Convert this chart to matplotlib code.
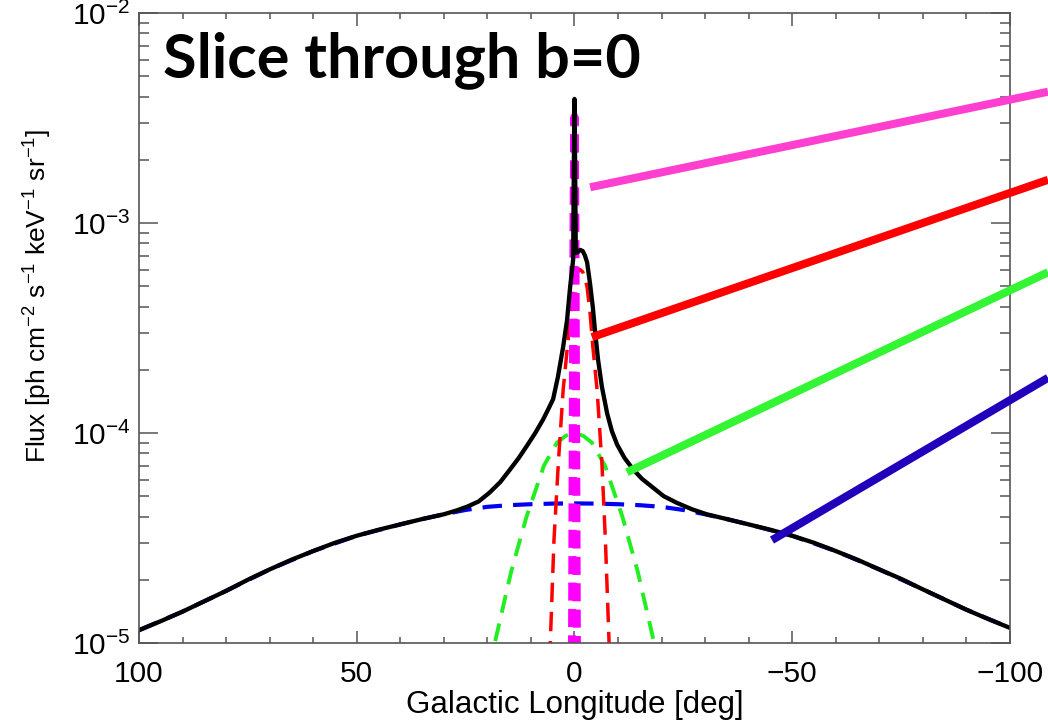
import numpy as np
import matplotlib
matplotlib.use("Agg")
import matplotlib.pyplot as plt
from matplotlib.patches import ConnectionPatch
from matplotlib.ticker import FixedLocator, LogLocator, NullFormatter

plt.rcParams['font.family'] = ['Liberation Sans', 'DejaVu Sans']
plt.rcParams['mathtext.fontset'] = 'custom'
plt.rcParams['mathtext.rm'] = 'Liberation Sans'
plt.rcParams['mathtext.it'] = 'Liberation Sans'
plt.rcParams['mathtext.default'] = 'regular'
plt.rcParams['lines.scale_dashes'] = False

# total flux along b=0 (black)
total_lon = [100, 95, 90, 85, 80, 75, 70, 65, 60, 55, 50, 45, 40, 35, 30, 27, 24.5, 22, 19.5,
             17, 14.8, 12.8, 10.9, 9, 7.2, 6, 4.9, 3.8, 2.6, 1.7, 1.0, 0.3, 0.15, 0,
             -0.15, -0.3, -0.7, -1.3, -1.9, -2.4, -2.9, -3.6, -4.2, -4.7, -5.4, -6.3, -7.5,
             -8.6, -9.8, -11.5, -13.5, -15.5, -18, -20.5, -23.5, -27, -30.4,
             -35, -40, -45, -50, -55, -60, -65, -70, -75, -80, -85, -90, -95, -100]
total_flux = [1.15e-5, 1.27e-5, 1.41e-5, 1.58e-5, 1.77e-5, 2.0e-5, 2.24e-5, 2.49e-5, 2.74e-5,
              3.0e-5, 3.24e-5, 3.46e-5, 3.67e-5, 3.89e-5, 4.1e-5, 4.28e-5, 4.47e-5, 4.72e-5,
              5.2e-5, 5.85e-5, 6.7e-5, 7.6e-5, 8.7e-5, 1.0e-4, 1.16e-4, 1.3e-4, 1.45e-4,
              1.85e-4, 2.57e-4, 3.45e-4, 4.95e-4, 6.7e-4, 1.8e-3, 3.9e-3,
              1.9e-3, 7.2e-4, 7.25e-4, 7.45e-4, 7.35e-4, 7.0e-4, 6.5e-4, 5.1e-4, 4.0e-4,
              3.1e-4, 2.25e-4, 1.66e-4, 1.24e-4, 1.02e-4, 8.8e-5, 7.6e-5, 6.7e-5, 6.05e-5,
              5.5e-5, 5.0e-5, 4.65e-5, 4.33e-5, 4.1e-5,
              3.89e-5, 3.67e-5, 3.46e-5, 3.24e-5, 3.0e-5, 2.74e-5, 2.49e-5, 2.24e-5, 2.02e-5,
              1.8e-5, 1.61e-5, 1.44e-5, 1.3e-5, 1.18e-5]

# broad disk component (blue)
disk_lon = [100, 90, 80, 70, 60, 50, 40, 35, 30, 25, 20, 15, 10, 5, 0,
            -5, -10, -15, -20, -25, -30, -35, -40, -50, -60, -70, -80, -90, -100]
disk_flux = [1.15e-5, 1.41e-5, 1.77e-5, 2.24e-5, 2.74e-5, 3.24e-5, 3.67e-5, 3.89e-5, 4.1e-5,
             4.3e-5, 4.45e-5, 4.53e-5, 4.58e-5, 4.61e-5, 4.62e-5, 4.61e-5, 4.58e-5, 4.53e-5,
             4.45e-5, 4.3e-5, 4.1e-5, 3.89e-5, 3.67e-5, 3.24e-5, 2.74e-5, 2.24e-5, 1.8e-5,
             1.44e-5, 1.18e-5]

# bulge component (green)
bulge_lon = [20, 18.3, 14.5, 11, 7, 4, 2, 0, -2, -4, -7, -11, -14.5, -18.3, -20]
bulge_flux = [7.5e-6, 1.0e-5, 2.2e-5, 4.0e-5, 7.0e-5, 9.0e-5, 9.7e-5, 1.0e-4, 9.7e-5,
              9.0e-5, 7.0e-5, 4.0e-5, 2.2e-5, 1.0e-5, 7.5e-6]

# nuclear bulge component (red)
nuclear_lon = [5.9, 5.5, 4.7, 3.7, 2.6, 1.6, 1.0, 0.3, -0.2, -0.7, -1.3, -1.9, -2.4, -2.9,
               -3.6, -4.2, -5.2, -6.3, -7.1, -7.9, -8.3]
nuclear_flux = [6e-6, 1.07e-5, 3.1e-5, 7.2e-5, 1.6e-4, 2.6e-4, 3.45e-4, 4.6e-4, 5.5e-4,
                5.85e-4, 6.0e-4, 5.85e-4, 5.5e-4, 4.95e-4, 3.7e-4, 2.6e-4, 1.6e-4, 7.2e-5,
                3.1e-5, 1.07e-5, 6e-6]

# central source (magenta)
core_lon = [0.6, 0.4, 0.2, 0, -0.2, -0.4, -0.6]
core_flux = [5e-6, 8e-5, 1.1e-3, 3.2e-3, 1.1e-3, 8e-5, 5e-6]

# callout lines: start (lon, flux) on the curves, end height at right figure edge
callout_lon = [-3.6, -4.0, -12.05, -45.35]
callout_flux = [1.48e-3, 2.86e-4, 6.5e-5, 3.09e-5]
callout_end = [0.874, 0.753, 0.626, 0.481]
callout_colors = ['#ff3fcf', '#ff0000', '#33f533', '#2200bb']

xticks = [100, 50, 0, -50, -100]
xtick_labels = ['100', '50', '0', '\u221250', '\u2212100']

fig = plt.figure(figsize=(10.48, 7.28), dpi=100)
ax = fig.add_axes([0.1326, 0.1168, 0.8311, 0.8653])

ax.plot(disk_lon, disk_flux, color='#0000f0', lw=3.0, dashes=(14, 8))
ax.plot(bulge_lon, bulge_flux, color='#22ee22', lw=2.8, dashes=(13, 8))
ax.plot(nuclear_lon, nuclear_flux, color='#ff0000', lw=2.5, dashes=(14, 7))
ax.plot(core_lon, core_flux, color='#ff00ff', lw=5.8, dashes=(13, 6))
ax.plot(total_lon, total_flux, color='black', lw=3.1, solid_joinstyle='round')

ax.set_yscale('log')
ax.set_xlim(100, -100)
ax.set_ylim(1e-5, 1e-2)

ax.xaxis.set_major_locator(FixedLocator(xticks))
ax.set_xticklabels(xtick_labels)
ax.xaxis.set_minor_locator(FixedLocator(np.arange(-100, 101, 10)))
ax.yaxis.set_major_locator(LogLocator(base=10, numticks=10))
ax.yaxis.set_minor_locator(LogLocator(base=10, subs=np.arange(2, 10), numticks=10))
ax.yaxis.set_minor_formatter(NullFormatter())

spine_gray = '#555555'
for s in ax.spines.values():
    s.set_color(spine_gray)
    s.set_linewidth(1.2)
ax.tick_params(axis='both', which='both', direction='in', top=True, right=True,
               color=spine_gray, width=1.1, labelsize=21.5, labelcolor='black')
ax.tick_params(axis='x', which='major', length=9, pad=12)
ax.tick_params(axis='x', which='minor', length=4.5)
ax.tick_params(axis='y', which='major', length=14, pad=6)
ax.tick_params(axis='y', which='minor', length=7.5)

ax.set_xlabel('Galactic Longitude [deg]', fontsize=22.5, labelpad=2)
ax.set_ylabel(r'Flux [ph cm$^{-2}$ s$^{-1}$ keV$^{-1}$ sr$^{-1}$]', fontsize=19)
ax.yaxis.set_label_coords(-0.097, 0.551)

fig.text(0.156, 0.894, 'Slice through b=0', fontsize=44, fontweight='bold',
         family=['Lato', 'DejaVu Sans'], ha='left', va='baseline')

for lon, flux, yend, col in zip(callout_lon, callout_flux, callout_end, callout_colors):
    con = ConnectionPatch(xyA=(lon, flux), coordsA=ax.transData,
                          xyB=(1.0, yend), coordsB=fig.transFigure,
                          color=col, lw=5.8, capstyle='butt')
    fig.add_artist(con)

fig.savefig('out.png', dpi=100)
